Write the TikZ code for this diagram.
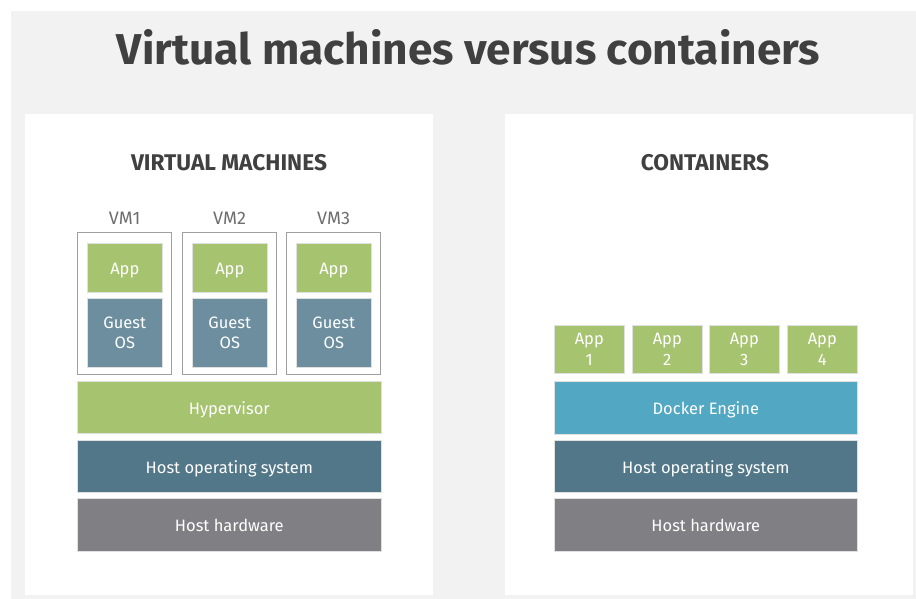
\documentclass[tikz,border=0pt]{standalone}
\usepackage{fontspec}
\setmainfont{Fira Sans}
\usetikzlibrary{positioning}

\definecolor{bggray}{HTML}{F2F2F2}
\definecolor{titlegray}{HTML}{404040}
\definecolor{labelgray}{HTML}{6E6E6E}
\definecolor{framegray}{HTML}{A0A0A0}
\definecolor{appgreen}{HTML}{A6C36F}
\definecolor{guestblue}{HTML}{6C8E9F}
\definecolor{hostblue}{HTML}{527788}
\definecolor{hwgray}{HTML}{808084}
\definecolor{dockerblue}{HTML}{52A8C2}

\begin{document}
\begin{tikzpicture}[x=1pt,y=-1pt,
    layer/.style={anchor=north west, inner sep=0pt, draw=white!88!black, line width=0.6pt,
      text=white, align=center, font=\fontsize{16.5}{20}\selectfont},
    oneline/.style={text height=14pt, text depth=0pt},
    vmframe/.style={anchor=north west, inner sep=0pt, draw=framegray, line width=1.2pt},
    heading/.style={text=titlegray, font=\fontsize{22.7}{26}\selectfont\bfseries},
    vmlabel/.style={text=labelgray, font=\fontsize{18}{21}\selectfont}]

    % background and panels
    \fill[white] (0,0) rectangle (916,599);
    \fill[bggray] (11,11) rectangle (916,599);
    \fill[white] (25,114) rectangle (433,595);
    \fill[white] (505,114) rectangle (913,595);
    \useasboundingbox (0,0) rectangle (916,599);

    \node[text=titlegray, anchor=base] (title) at (468.5,65)
      {\resizebox{703pt}{35pt}{\bfseries Virtual machines versus containers}};

    % virtual machines side
    \node[heading] (vmhead) at (229,163) {VIRTUAL MACHINES};

    \foreach \i/\x/\n in {1/77/VM1, 2/182/VM2, 3/286/VM3}{
      \node[vmframe, minimum width=94pt, minimum height=142pt] (vm\i) at (\x,232) {};
      \node[vmlabel, above=4pt of vm\i.north] (vmlabel\i) {\n};
      \node[layer, oneline, fill=appgreen, minimum width=75pt, minimum height=49pt] (app\i) at (\x+10,243) {App};
      \node[layer, fill=guestblue, minimum width=75pt, minimum height=69pt] (guest\i) at (\x+10,298) {\raisebox{-3pt}{\shortstack{Guest\\[6pt]OS}}};
    }

    \node[layer, oneline, fill=appgreen, minimum width=304pt, minimum height=52pt] (hyper) at (77,381) {Hypervisor};
    \node[layer, oneline, fill=hostblue, minimum width=304pt, minimum height=52pt] (vmhostos) at (77,440) {Host operating system};
    \node[layer, oneline, fill=hwgray, minimum width=304pt, minimum height=53pt] (vmhosthw) at (77,498) {Host hardware};

    % containers side
    \node[heading] (ctrhead) at (705,163) {CONTAINERS};

    \foreach \i/\x in {1/554, 2/632, 3/709, 4/787}{
      \node[layer, fill=appgreen, minimum width=70pt, minimum height=48pt] (ctrapp\i) at (\x,325) {\raisebox{-5pt}{\shortstack{App\\[4pt]\i}}};
    }

    \node[layer, oneline, fill=dockerblue, minimum width=303pt, minimum height=53pt] (docker) at (554,381) {Docker Engine};
    \node[layer, oneline, fill=hostblue, minimum width=303pt, minimum height=52pt] (ctrhostos) at (554,440) {Host operating system};
    \node[layer, oneline, fill=hwgray, minimum width=303pt, minimum height=53pt] (ctrhosthw) at (554,498) {Host hardware};

\end{tikzpicture}
\end{document}
